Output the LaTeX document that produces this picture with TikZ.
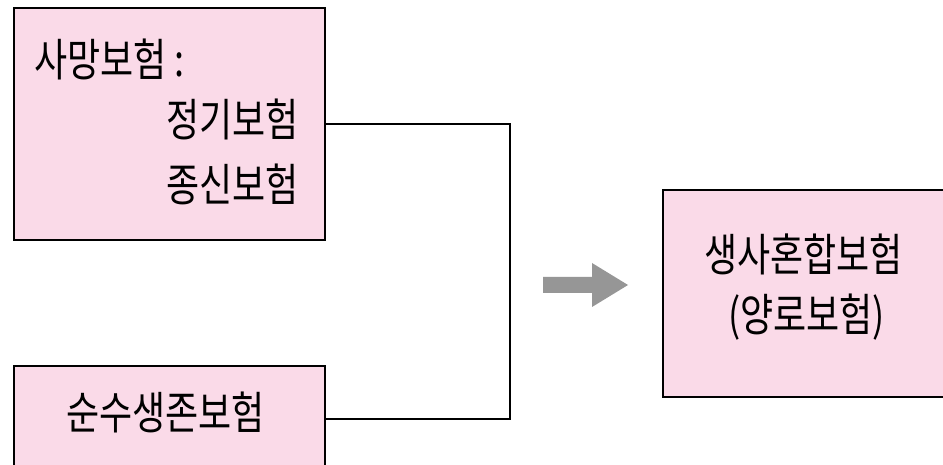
\documentclass[tikz,border=0pt]{standalone}
\usepackage{graphicx}
\usepackage{fontspec}
\setmainfont{Noto Sans CJK KR}
\definecolor{boxpink}{RGB}{250,218,232}
\definecolor{arrgray}{RGB}{150,150,150}
\newcommand\talltext[1]{\scalebox{1}[1.25]{#1}}
\begin{document}
\begin{tikzpicture}[x=1pt,y=-1pt,
  pinkbox/.style={draw=black,line width=2pt,fill=boxpink,inner sep=0pt},
  lbl/.style={font=\fontsize{36}{44}\selectfont,inner sep=0pt,anchor=base west},
  conn/.style={draw=black,line width=2pt}]
\useasboundingbox[fill=white] (0,0) rectangle (943,465);
\clip (0,0) rectangle (943,465);
% boxes
\node[pinkbox,minimum width=311pt,minimum height=232pt] (b1) at (169.5,124) {};
\node[pinkbox,minimum width=311pt,minimum height=106pt] (b2) at (169.5,419) {};
\node[pinkbox,minimum width=297pt,minimum height=207pt] (b3) at (811.5,293.5) {};
% texts
\node[lbl] (t1) at (34,77) {\talltext{사망보험 :}};
\node[lbl] (t2) at (166,137) {\talltext{정기보험}};
\node[lbl] (t3) at (166,202) {\talltext{종신보험}};
\node[lbl] (t4) at (66,429) {\talltext{순수생존보험}};
\node[lbl] (t5) at (704,272) {\talltext{생사혼합보험}};
\node[lbl] (t6) at (728,331) {\talltext{(양로보험)}};
% connector
\coordinate (j1) at (510,124);
\coordinate (j2) at (510,419);
\draw[conn] (b1.east) -- (j1) -- (j2) -- (b2.east);
% gray arrow
\fill[arrgray] (543,277) -- (592,277) -- (592,263) -- (628,285) -- (592,307) -- (592,293) -- (543,293) -- cycle;
\end{tikzpicture}
\end{document}
